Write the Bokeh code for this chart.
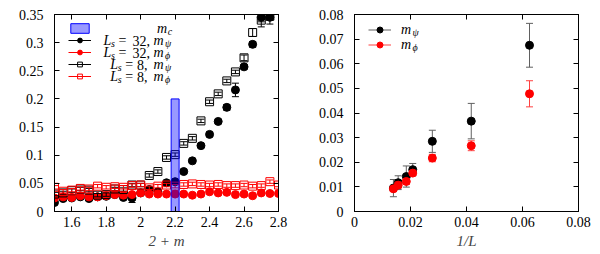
import numpy as np
from bokeh.plotting import figure
from bokeh.layouts import row
from bokeh.models import (ColumnDataSource, FixedTicker, LinearAxis, Range1d,
                          Legend, LegendItem, Label, CustomJSTickFormatter)
from bokeh.embed import file_html
from bokeh.resources import INLINE

# ---------------- data: left panel ----------------
mass_black = [1.50, 1.55, 1.60, 1.65, 1.70, 1.75, 1.80, 1.85, 1.90, 1.95, 2.00, 2.05, 2.10,
              2.15, 2.20, 2.25, 2.30, 2.35, 2.40, 2.45, 2.50, 2.55, 2.60, 2.65, 2.70, 2.75]
mass_red = [1.50, 1.55, 1.60, 1.65, 1.70, 1.75, 1.80, 1.85, 1.90, 1.95, 2.00, 2.05, 2.10,
            2.15, 2.20, 2.25, 2.30, 2.35, 2.40, 2.45, 2.50, 2.55, 2.60, 2.65, 2.70, 2.75, 2.80]

ls32_mpsi = [0.016, 0.023, 0.024, 0.026, 0.023, 0.026, 0.027, 0.030, 0.025, 0.024, 0.033, 0.039, 0.035,
             0.051, 0.053, 0.071, 0.090, 0.117, 0.137, 0.160, 0.185, 0.216, 0.257, 0.297, 0.345, 0.345]
ls32_mpsi_err = [0.003, 0.003, 0.003, 0.003, 0.003, 0.003, 0.003, 0.003, 0.003, 0.008, 0.003, 0.003, 0.003,
                 0.003, 0.003, 0.003, 0.003, 0.003, 0.004, 0.003, 0.005, 0.012, 0.004, 0.005, 0.008, 0.012]

ls8_mpsi = [0.031, 0.033, 0.037, 0.040, 0.038, 0.029, 0.030, 0.040, 0.039, 0.047, 0.047, 0.064, 0.071,
            0.096, 0.101, 0.121, 0.130, 0.161, 0.195, 0.209, 0.232, 0.248, 0.273, 0.318, 0.340, 0.347]
ls8_mpsi_err = [0.003, 0.003, 0.003, 0.003, 0.003, 0.003, 0.003, 0.003, 0.003, 0.003, 0.003, 0.003, 0.003,
                0.003, 0.003, 0.003, 0.003, 0.003, 0.003, 0.003, 0.003, 0.003, 0.005, 0.007, 0.012, 0.007]

ls32_mphi = [0.024, 0.026, 0.025, 0.028, 0.026, 0.026, 0.028, 0.030, 0.029, 0.030, 0.033, 0.031, 0.031,
             0.031, 0.031, 0.031, 0.029, 0.031, 0.035, 0.033, 0.034, 0.030, 0.031, 0.028, 0.033, 0.032, 0.032]
ls32_mphi_err = [0.002] * 27

ls8_mphi = [0.043, 0.036, 0.038, 0.041, 0.040, 0.045, 0.043, 0.044, 0.043, 0.046, 0.047, 0.042, 0.045,
            0.047, 0.045, 0.048, 0.049, 0.048, 0.047, 0.048, 0.046, 0.046, 0.047, 0.045, 0.046, 0.053, 0.047]
ls8_mphi_err = [0.003] * 27

mc_center = 2.2
mc_halfwidth = 0.023
mc_bar_height = 0.2

left_xticks = [1.6, 1.8, 2.0, 2.2, 2.4, 2.6, 2.8]
left_yticks = [0, 0.05, 0.1, 0.15, 0.2, 0.25, 0.3, 0.35]

# ---------------- data: right panel ----------------
inv_L = [0.0139, 0.0156, 0.0185, 0.0208, 0.0278, 0.0417, 0.0625]
m_psi = [0.0095, 0.0117, 0.0142, 0.0170, 0.0285, 0.0367, 0.0675]
m_psi_err = [0.0035, 0.0028, 0.0043, 0.0025, 0.0045, 0.0072, 0.0089]
m_phi = [0.0092, 0.0107, 0.0122, 0.0156, 0.0217, 0.0267, 0.0478]
m_phi_err = [0.0010, 0.0012, 0.0012, 0.0010, 0.0015, 0.0020, 0.0053]

right_xticks = [0, 0.02, 0.04, 0.06, 0.08]
right_yticks = [0, 0.01, 0.02, 0.03, 0.04, 0.05, 0.06, 0.07, 0.08]

FONT = "Liberation Serif"
FMT = CustomJSTickFormatter(code="return String(Number(tick.toFixed(4)));")


def cfg_axis(ax, ticks, show, standoff=6):
    ax.ticker = FixedTicker(ticks=ticks)
    ax.formatter = FMT
    ax.major_tick_in = 5
    ax.major_tick_out = 0
    ax.minor_tick_line_color = None
    ax.axis_line_color = "black"
    ax.major_tick_line_color = "black"
    if show:
        ax.major_label_text_font = FONT
        ax.major_label_text_font_size = "14px"
        ax.major_label_text_color = "black"
        ax.major_label_standoff = standoff
    else:
        ax.major_label_text_font_size = "1px"
        ax.major_label_text_color = None
        ax.major_label_standoff = 0


def make_fig(xr, yr, xt, yt, xlabel, w, bl, br):
    p = figure(width=w, height=254, x_range=Range1d(*xr), y_range=Range1d(*yr),
               output_backend="svg", toolbar_location=None,
               min_border_left=bl, min_border_right=br, min_border_top=14, min_border_bottom=43)
    p.xgrid.visible = False
    p.ygrid.visible = False
    p.outline_line_color = "black"
    p.outline_line_alpha = 1
    p.outline_line_width = 1
    cfg_axis(p.xaxis[0], xt, True, 5)
    cfg_axis(p.yaxis[0], yt, True, 11)
    p.xaxis[0].axis_label = xlabel
    p.xaxis[0].axis_label_text_font = FONT
    p.xaxis[0].axis_label_text_font_size = "15px"
    p.xaxis[0].axis_label_text_font_style = "italic"
    p.xaxis[0].axis_label_standoff = 3
    ra = LinearAxis()
    cfg_axis(ra, yt, False)
    p.add_layout(ra, "right")
    ta = LinearAxis()
    cfg_axis(ta, xt, False)
    p.add_layout(ta, "above")
    return p


def series(p, x, y, e, marker, color, ecolor, size=8, filled=True):
    x = np.array(x); y = np.array(y); e = np.array(e)
    src = ColumnDataSource(dict(x=x, y=y, lo=y - e, hi=y + e))
    seg = p.segment(x0="x", y0="lo", x1="x", y1="hi", source=src, line_color=ecolor, line_width=1)
    p.scatter(x="x", y="lo", source=src, marker="dash", size=7, line_color=ecolor, line_width=1)
    p.scatter(x="x", y="hi", source=src, marker="dash", size=7, line_color=ecolor, line_width=1)
    if filled:
        sc = p.scatter(x="x", y="y", source=src, marker=marker, size=size,
                       fill_color=color, line_color=color)
    else:
        sc = p.scatter(x="x", y="y", source=src, marker=marker, size=size,
                       fill_alpha=0, line_color=color, line_width=1)
    return [seg, sc]


def add_text(p, sx, sy, text, size=14, italic=False):
    p.add_layout(Label(x=sx, y=sy, x_units="screen", y_units="screen", text=text,
                       text_font=FONT, text_font_size=f"{size}px",
                       text_font_style="italic" if italic else "normal",
                       text_align="left", text_baseline="middle", text_color="black"))


# ---------------- left figure ----------------
left = make_fig((1.5, 2.8), (0, 0.35), left_xticks, left_yticks, "2 + m", 300, 54, 22)

r_b32 = series(left, mass_black, ls32_mpsi, ls32_mpsi_err, "circle", "black", "black", 8, True)
r_r32 = series(left, mass_red, ls32_mphi, ls32_mphi_err, "circle", "#ff0000", "#ff0000", 8, True)
r_b8 = series(left, mass_black, ls8_mpsi, ls8_mpsi_err, "square", "black", "black", 8, False)
r_r8 = series(left, mass_red, ls8_mphi, ls8_mphi_err, "square", "#ff0000", "#ff0000", 8, False)
bar = left.quad(left=[mc_center - mc_halfwidth], right=[mc_center + mc_halfwidth],
                bottom=[0], top=[mc_bar_height], fill_color="#0000ff", fill_alpha=0.4,
                line_color="#0000ff", line_width=1)

leg = Legend(items=[LegendItem(label=" ", renderers=[bar]),
                    LegendItem(label=" ", renderers=r_b32),
                    LegendItem(label=" ", renderers=r_r32),
                    LegendItem(label=" ", renderers=r_b8),
                    LegendItem(label=" ", renderers=r_r8)],
             location=(14, 129), orientation="vertical", padding=0, margin=0, spacing=0,
             glyph_width=23, glyph_height=12, label_width=0, label_height=12, label_standoff=0,
             label_text_font_size="1px", label_text_color=None,
             border_line_color=None, background_fill_alpha=0)
left.add_layout(leg, "center")

FL, FB = 54.3, 210.7  # page coords of frame left / bottom (left fig)


def lt(p, px, py, text, size=14, italic=False, fl=FL):
    add_text(p, px - fl, FB - py, text, size, italic)


lt(left, 156.7, 28, "m", italic=True)
lt(left, 167.5, 31, "c", 10, True)
for py, num, xL, xs, xeq, xn, sub in [(40, "32,", 103.3, 110.8, 118.3, 132.3, "ψ"),
                                      (52, "32,", 103.3, 110.8, 118.3, 132.3, "ϕ"),
                                      (64, "8,", 110.0, 117.5, 125.0, 136.7, "ψ"),
                                      (76, "8,", 110.0, 117.5, 125.0, 136.7, "ϕ")]:
    lt(left, xL, py, "L", italic=True)
    lt(left, xs, py + 3, "s", 10, True)
    lt(left, xeq, py, "=")
    lt(left, xn, py, num)
    lt(left, 153.3, py, "m", italic=True)
    lt(left, 164.8, py + 3, sub, 10, True)

# ---------------- right figure ----------------
right = make_fig((0, 0.08), (0, 0.08), right_xticks, right_yticks, "1/L", 300, 54, 22)
rr_psi = series(right, inv_L, m_psi, m_psi_err, "circle", "black", "#606060", 8, True)
rr_phi = series(right, inv_L, m_phi, m_phi_err, "circle", "#ff0000", "#ff4040", 8, True)

leg2 = Legend(items=[LegendItem(label=" ", renderers=rr_psi),
                     LegendItem(label=" ", renderers=rr_phi)],
              location=(14, 159), orientation="vertical", padding=0, margin=0, spacing=0,
              glyph_width=23, glyph_height=15, label_width=0, label_height=15, label_standoff=0,
              label_text_font_size="1px", label_text_color=None,
              border_line_color=None, background_fill_alpha=0)
right.add_layout(leg2, "center")

RFL = 354.3
lt(right, 400.7, 29, "m", italic=True, fl=RFL)
lt(right, 412.3, 32, "ψ", 10, True, fl=RFL)
lt(right, 400.7, 44, "m", italic=True, fl=RFL)
lt(right, 412.3, 47, "ϕ", 10, True, fl=RFL)

layout = row(left, right)
open("out.html", "w").write(file_html(layout, INLINE))
